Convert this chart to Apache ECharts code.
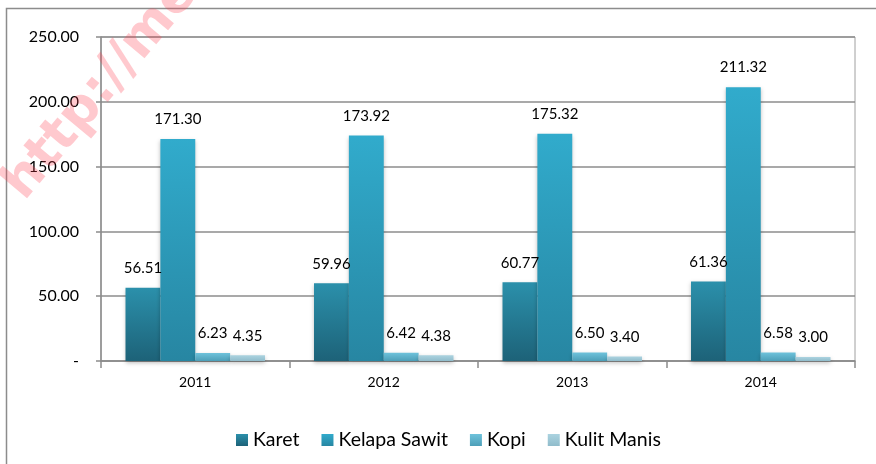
<!DOCTYPE html>
<html>
<head>
<meta charset="utf-8">
<script src="https://cdn.jsdelivr.net/npm/echarts@6/dist/echarts.min.js"></script>
<style>
  html, body { margin: 0; padding: 0; background: #fff; }
  #chartBox { width: 876px; height: 464px; }
</style>
</head>
<body>
<div id="chartBox"></div>
<script>
// data
var years = ["2011", "2012", "2013", "2014"];
var karet = [56.51, 59.96, 60.77, 61.36];
var kelapaSawit = [171.30, 173.92, 175.32, 211.32];
var kopi = [6.23, 6.42, 6.50, 6.58];
var kulitManis = [4.35, 4.38, 3.40, 3.00];

var font = "Lato, 'Open Sans', sans-serif";

function grad(top, bottom) {
  return new echarts.graphic.LinearGradient(0, 0, 0, 1, [
    { offset: 0, color: top },
    { offset: 1, color: bottom }
  ]);
}

function makeSeries(name, data, top, bottom) {
  return {
    name: name,
    type: "bar",
    data: data,
    barGap: "0%",
    barCategoryGap: "26%",
    itemStyle: {
      color: grad(top, bottom),
      shadowColor: "rgba(0,0,0,0.25)",
      shadowBlur: 4,
      shadowOffsetY: 2
    },
    label: {
      show: true,
      position: "top",
      distance: 12,
      color: "#000",
      fontSize: 15,
      fontFamily: font,
      formatter: function(p) {
        return p.value.toFixed(2);
      }
    }
  };
}

var chart = echarts.init(document.getElementById("chartBox"));

var option = {
  animation: false,
  graphic: [
    {
      type: "rect",
      shape: { x: 6.5, y: 8.5, width: 900, height: 500 },
      style: { fill: "none", stroke: "#8c8c8c", lineWidth: 1.5 },
      z: 0
    },
    {
      type: "text",
      x: -6,
      y: 176,
      rotation: (50 * Math.PI) / 180,
      style: {
        text: "http://me",
        fill: "rgba(255,60,80,0.28)",
        font: "bold 52px 'DejaVu Sans', sans-serif"
      },
      z: 100
    }
  ],
  grid: {
    left: 101,
    top: 37,
    right: 21,
    bottom: 103,
    show: true,
    borderColor: "#a0a0a0",
    borderWidth: 1
  },
  legend: {
    left: 231,
    top: 425,
    itemWidth: 12,
    itemHeight: 12,
    itemGap: 22,
    icon: "rect",
    textStyle: { fontSize: 19.5, fontFamily: font, color: "#000" },
    data: ["Karet", "Kelapa Sawit", "Kopi", "Kulit Manis"]
  },
  xAxis: {
    type: "category",
    data: years,
    axisLine: { lineStyle: { color: "#8c8c8c", width: 1.5 } },
    axisTick: { show: true, length: 7, alignWithLabel: false, lineStyle: { color: "#8c8c8c", width: 1.5 } },
    axisLabel: { color: "#000", fontSize: 14, fontFamily: font, margin: 14 }
  },
  yAxis: {
    type: "value",
    min: 0,
    max: 250,
    interval: 50,
    axisLine: { show: true, lineStyle: { color: "#8c8c8c", width: 1.5 } },
    axisTick: { show: true, length: 5, lineStyle: { color: "#8c8c8c", width: 1.5 } },
    splitLine: { lineStyle: { color: "#8c8c8c", width: 1.5 } },
    axisLabel: {
      color: "#000",
      fontSize: 16,
      fontFamily: font,
      margin: 22,
      formatter: function(v) {
        return v === 0 ? "-" : v.toFixed(2);
      }
    }
  },
  series: [
    makeSeries("Karet", karet, "#2b90ab", "#1d6278"),
    makeSeries("Kelapa Sawit", kelapaSawit, "#31abcc", "#2786a2"),
    makeSeries("Kopi", kopi, "#6ec2db", "#4d9fb8"),
    makeSeries("Kulit Manis", kulitManis, "#abd3e0", "#90bccb")
  ]
};

chart.setOption(option);
</script>
</body>
</html>
